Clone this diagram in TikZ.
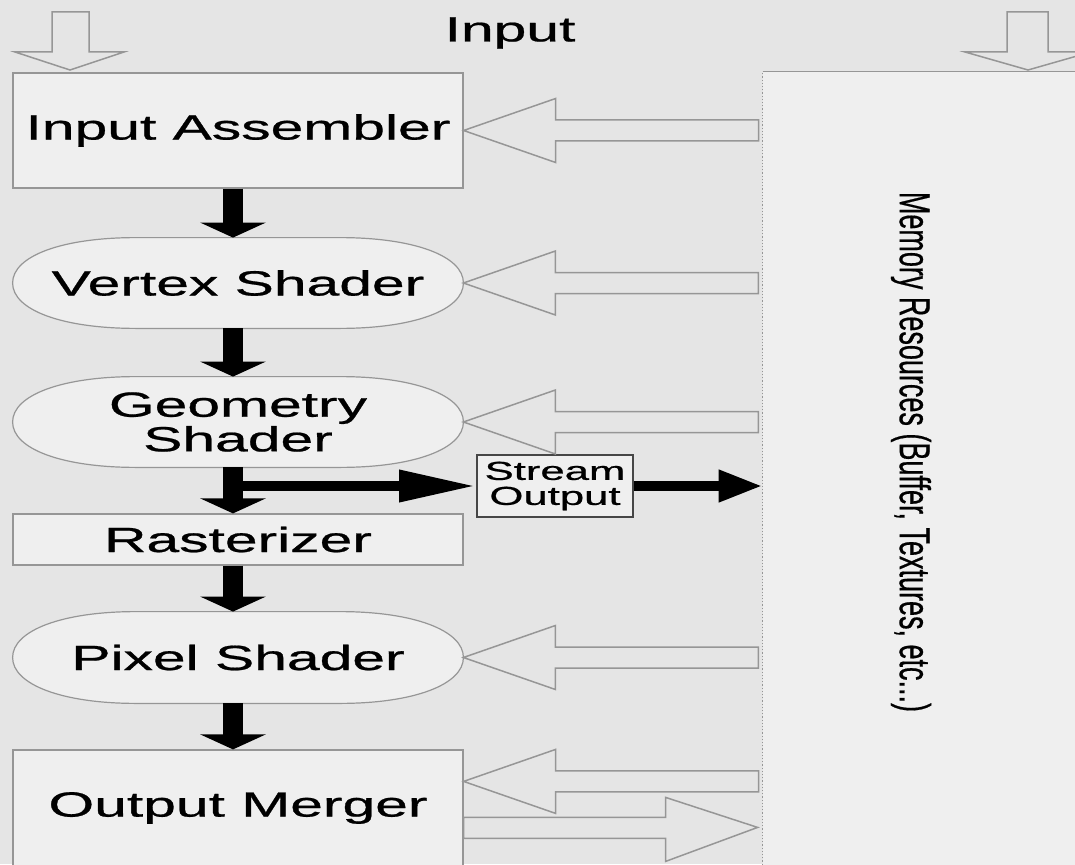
\documentclass[tikz,border=0pt]{standalone}
\usepackage{graphicx}
\usepackage{fontspec}
\setmainfont{Liberation Sans}[FakeBold=0.6]
\usetikzlibrary{arrows.meta,backgrounds}

\definecolor{bgcol}{RGB}{229,229,229}
\definecolor{boxfill}{RGB}{239,239,239}
\definecolor{linecol}{RGB}{150,150,150}
\definecolor{soline}{RGB}{70,70,70}

\newcommand{\wide}[1]{\scalebox{1.68}[1]{#1}}
\newcommand{\pill}[1]{%
  \begin{scope}[on background layer]
    \filldraw[fill=boxfill,draw=linecol,line width=.6pt]
      (#1.north) -- ([xshift=-51pt]#1.north)
      .. controls +(-37pt,0) and +(0,13.5pt) .. (#1.west)
      .. controls +(0,-13.5pt) and +(-37pt,0) .. ([xshift=-51pt]#1.south)
      -- ([xshift=51pt]#1.south)
      .. controls +(37pt,0) and +(0,-13.5pt) .. (#1.east)
      .. controls +(0,13.5pt) and +(37pt,0) .. ([xshift=51pt]#1.north)
      -- cycle;
  \end{scope}}

\begin{document}
\begin{tikzpicture}[x=.5pt,y=.5pt,
    stage/.style={draw=linecol,line width=.6pt,fill=boxfill,minimum width=225pt,
      inner sep=0pt,font=\fontsize{17.5}{16}\selectfont},
    shader/.style={minimum width=225pt,minimum height=45pt,inner sep=0pt,
      align=center,font=\fontsize{17.5}{16}\selectfont},
    hollow/.style={draw=linecol,line width=.75pt,line join=miter},
    flow/.style={line width=10pt,-{Triangle[length=7.5pt,width=32.5pt]}},
    side/.style={line width=5pt,-{Triangle[length=#1,width=15pt]}}]
      \useasboundingbox (0,0) rectangle (1075,864);
      \begin{scope}[on background layer]
        \fill[bgcol] (0,0) rectangle (1075,864);
      \end{scope}

      % pipeline stages
      \node[stage,minimum height=57.5pt] (ia) at (238,733.5) {\wide{Input Assembler}};
      \node[shader] (vs) at (238,581) {\wide{Vertex Shader}};
      \node[shader] (gs) at (238,442) {\wide{Geometry}\\\wide{Shader}};
      \node[stage,minimum height=25.5pt] (rast) at (238,324.5) {\wide{Rasterizer}};
      \node[shader,minimum height=45.5pt] (ps) at (238,206.5) {\wide{Pixel Shader}};
      \node[stage,minimum height=58pt] (om) at (238,56) {\wide{Output Merger}};
      \foreach \n in {vs,gs,ps}{
        \pill{\n}
      }
      \node[draw=soline,line width=1pt,fill=boxfill,minimum width=78pt,minimum height=31pt,
        inner sep=0pt,align=center,font=\fontsize{13}{12.5}\selectfont]
        (so) at (555,378) {\wide{Stream}\\\wide{Output}};
      \node[font=\fontsize{17.5}{16}\selectfont] (inputlbl) at (510,831) {\wide{Input}};

      % memory
      \node[fill=boxfill,minimum width=163.5pt,minimum height=401pt] (mem) at (926.5,391) {};
      \draw[linecol,line width=.6pt,densely dotted] (mem.south west) -- (mem.north west);
      \draw[linecol,line width=.6pt] (mem.north west) -- (mem.north east);
      \node[rotate=-90,font=\fontsize{13.5}{16}\selectfont] (memtext) at (911,412)
        {\scalebox{1}[1.6]{Memory Resources (Buffer, Textures, etc...)}};

      % input arrows
      \draw[hollow] (52,852) -- (89,852) -- (89,812) -- (124,812) -- (70,794)
        -- (15,812) -- (52,812) -- cycle;
      \draw[hollow] (1007,852) -- (1048,852) -- (1048,812) -- (1091,812) -- (1028,794)
        -- (965,812) -- (1007,812) -- cycle;
      \foreach \n in {ia,vs,gs,ps}{
        \draw[hollow] (\n.east) -- ++(92,32) -- ++(0,-21.5) -- ++(203,0) -- ++(0,-21)
          -- ++(-203,0) -- ++(0,-21.5) -- cycle;
      }
      \draw[hollow] ([yshift=-16pt]om.north east) -- ++(92,32) -- ++(0,-21.5) -- ++(203,0)
        -- ++(0,-21) -- ++(-203,0) -- ++(0,-21.5) -- cycle;
      \draw[hollow] ([yshift=-34pt]om.north east) -- ++(202,0) -- ++(0,20) -- ++(92,-30)
        -- ++(-92,-34) -- ++(0,23) -- ++(-202,0) -- cycle;

      % data flow
      \foreach \a/\b in {ia/vs,vs/gs,gs/rast,rast/ps,ps/om}{
        \draw[flow] ([xshift=-2.5pt]\a.south) -- ([xshift=-2.5pt]\b.north);
      }
      \draw[side=38.5pt] ([xshift=-2.5pt]gs.south |- so.west) -- (so.west);
      \draw[side=22pt] (so.east) -- (so.east -| mem.west);
    \end{tikzpicture}
\end{document}
